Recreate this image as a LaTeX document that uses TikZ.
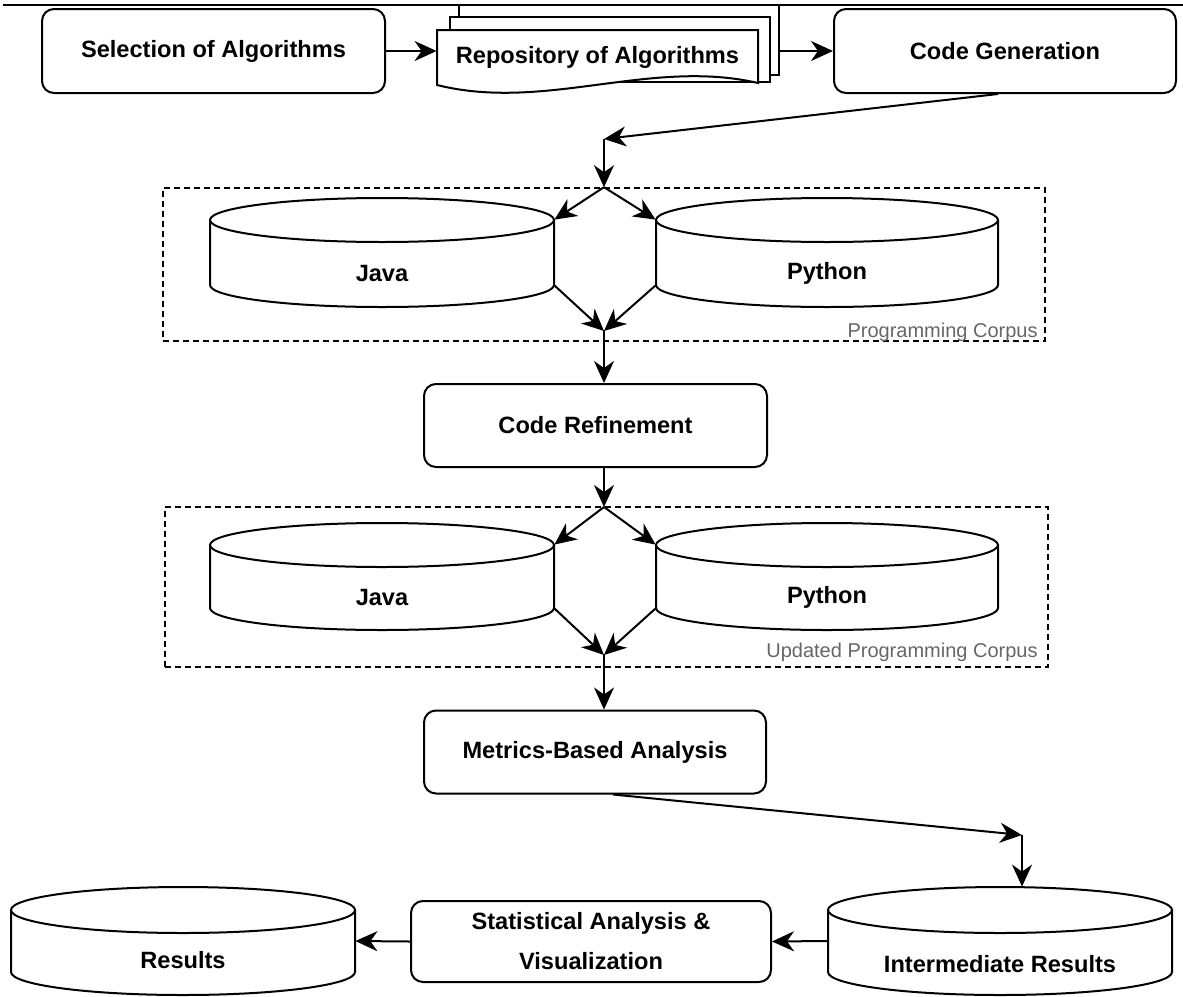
\documentclass[tikz,border=0pt]{standalone}
\usepackage{fontspec}
\setmainfont{Liberation Sans}
\usetikzlibrary{arrows.meta,calc}
\tikzset{
  ln/.style={line width=1pt},
  bf/.style={font=\fontsize{11.8}{20}\selectfont\bfseries},
  box/.style={draw, ln, fill=white, rounded corners=6pt, minimum width=#1,
    minimum height=41.5pt, inner sep=0pt, align=center, bf},
  tipA/.tip={Stealth[length=11pt,width=10pt,inset=3.5pt]},
  arr/.style={ln, -tipA},
  corpus/.style={draw, line width=0.8pt, dash pattern=on 3pt off 2pt, inner sep=0pt},
  corplabel/.style={font=\fontsize{10}{12}\selectfont, text=black!60, inner sep=0pt},
  sheet/.style={draw, ln, fill=white, inner sep=0pt},
}
% #1 name, #2 left, #3 right, #4 top, #5 bottom, #6 ry, #7 text y, #8 text (px units)
\newcommand\dbcyl[8]{%
  \pgfmathsetmacro\cylcx{(#2+#3)/2}%
  \pgfmathsetmacro\cylrx{(#3-#2)/4}%
  \pgfmathsetmacro\cylry{#6/2}%
  \pgfmathsetmacro\cylw{(#3-#2)/2}%
  \pgfmathsetmacro\cylh{(#5-#4)/2}%
  \pgfmathsetmacro\cylcy{(#4+#5)/2}%
  \filldraw[fill=white, ln] (#2,#4+#6) -- (#2,#5-#6)
    arc[start angle=180, end angle=360, x radius=\cylrx pt, y radius=\cylry pt]
    -- (#3,#4+#6);
  \filldraw[fill=white, ln] (\cylcx,#4+#6) ellipse[x radius=\cylrx pt, y radius=\cylry pt];
  \node[inner sep=0pt, minimum width=\cylw pt, minimum height=\cylh pt] (#1) at (\cylcx,\cylcy) {};
  \node[bf, inner sep=0pt] (#1t) at (\cylcx,#7) {#8};
}
\begin{document}
\begin{tikzpicture}[x=0.5pt, y=-0.5pt]
\useasboundingbox (0,0) rectangle (1183,996);

% page rule at the top
\draw[line width=1pt] (3,4.5) -- (1183,4.5);

% top row
\node[box=171.5pt, minimum height=42pt] (sel) at (213.5,51) {Selection of Algorithms};
\node[box=171pt, minimum height=42pt] (codegen) at (1005,51) {Code Generation};

\node[sheet, minimum width=160pt, minimum height=35pt] (repo3) at (619,40) {};
\node[sheet, minimum width=160pt, minimum height=32.5pt] (repo2) at (610,49.5) {};
\filldraw[fill=white, ln] (437,30) -- (758,30) -- (758,83)
  .. controls (650,58) and (545,112) .. (437,85) -- cycle;
\node[bf, inner sep=0pt, minimum width=160.5pt] (repo) at (597.5,57) {Repository of Algorithms};

\draw[arr] (sel.east) -- (sel.east -| repo.west);
\draw[arr] (repo3.east |- codegen.west) -- (codegen.west);

% first corpus
\node[corpus, minimum width=441pt, minimum height=76.5pt] (corpus1) at (604,264.5) {};
\node[corplabel, anchor=east] (lab1) at (1038,332) {Programming Corpus};
\dbcyl{java1}{210}{554}{198}{307}{22}{273}{Java}
\dbcyl{python1}{656}{998}{198}{307}{22}{273}{Python}

\coordinate (t1) at (604,139);
\coordinate (m1) at (604,331);
\draw[arr] ([xshift=-3.5pt]codegen.south) -- (t1);
\draw[arr] (t1) -- (corpus1.north);
\draw[arr] (corpus1.north) -- ([yshift=-11pt]java1.north east);
\draw[arr] (corpus1.north) -- ([yshift=-11pt]python1.north west);
\draw[arr] ([yshift=11pt]java1.south east) -- (m1);
\draw[arr] ([yshift=11pt]python1.south west) -- (m1);

\node[box=171.5pt] (refine) at (595.5,425.5) {Code Refinement};
\draw[arr] (m1) -- (m1 |- refine.north);

% second corpus
\node[corpus, minimum width=441.5pt, minimum height=80pt] (corpus2) at (606.5,587) {};
\node[corplabel, anchor=east] (lab2) at (1038,652) {Updated Programming Corpus};
\dbcyl{java2}{210}{554}{523}{630}{22}{597}{Java}
\dbcyl{python2}{656}{998}{523}{630}{22}{597}{Python}

\coordinate (s2) at (604,507);
\coordinate (m2) at (604,655);
\draw[arr] (refine.south -| m1) -- (s2);
\draw[arr] (s2) -- ([yshift=-11pt]java2.north east);
\draw[arr] (s2) -- ([yshift=-11pt]python2.north west);
\draw[arr] ([yshift=11pt]java2.south east) -- (m2);
\draw[arr] ([yshift=11pt]python2.south west) -- (m2);

\node[box=171pt] (metrics) at (595,752) {Metrics-Based Analysis};
\draw[arr] (m2) -- (m2 |- metrics.north);

% bottom row
\dbcyl{inter}{828}{1172}{887}{995}{23}{964}{Intermediate Results}
\dbcyl{results}{11}{355}{887}{995}{23}{960}{Results}
\node[box=180pt, minimum height=40.5pt] (stat) at (591,941.5) {Statistical Analysis \&\\Visualization};

\coordinate (t2) at (1022,835);
\draw[arr] ([xshift=9pt]metrics.south) -- (t2);
\draw[arr] (t2) -- (t2 |- inter.north);
\draw[arr] (inter.west) -- (stat.east);
\draw[arr] (stat.west) -- (results.east);
\end{tikzpicture}
\end{document}
